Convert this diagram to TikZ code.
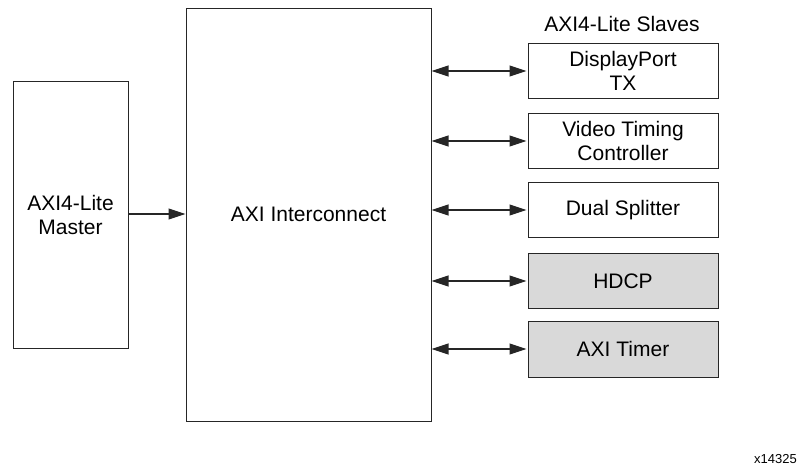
\documentclass[tikz,border=0pt]{standalone}
\usepackage{fontspec}
\setmainfont{Liberation Sans}
\usetikzlibrary{arrows.meta}
\begin{document}
\begin{tikzpicture}[x=1pt,y=-1pt,
  blk/.style={draw=black!85,line width=1pt,fill=white},
  slv/.style={blk,minimum width=190pt,minimum height=55pt,inner sep=0pt,align=center},
  grey/.style={fill=black!15},
  lbl/.style={font=\fontsize{21}{24}\selectfont,align=center},
  conn/.style={line width=1.1pt,draw=black!85,-{Triangle[length=17pt,width=11pt]}},
  bconn/.style={line width=1.1pt,draw=black!85,{Triangle[length=17pt,width=11pt]}-{Triangle[length=17pt,width=11pt]}}]
\useasboundingbox (0,0) rectangle (798,467);
\node[blk,minimum width=115pt,minimum height=267pt,inner sep=0pt] (master) at (70.5,214.5) {};
\node[lbl] at (master.center) {AXI4-Lite\\Master};
\node[blk,minimum width=245pt,minimum height=413pt,inner sep=0pt] (ic) at (308.5,214.5) {};
\node[lbl] at (ic.center) {AXI Interconnect};
\node[slv,font=\fontsize{21}{24}\selectfont] (dp) at (623,71) {DisplayPort\\TX};
\node[slv,font=\fontsize{21}{24}\selectfont] (vtc) at (623,141) {Video Timing\\Controller};
\node[slv,font=\fontsize{21}{24}\selectfont] (ds) at (623,210) {Dual Splitter};
\node[slv,grey,font=\fontsize{21}{24}\selectfont] (hdcp) at (623,281) {HDCP};
\node[slv,grey,font=\fontsize{21}{24}\selectfont,minimum height=56pt] (tmr) at (623,349) {AXI Timer};
\node[lbl] (title) at (622,24) {AXI4-Lite Slaves};
\node[font=\fontsize{13}{15}\selectfont,anchor=east,inner sep=0pt] (fig) at (797,459) {x14325};
\draw[conn] (master.east |- 0,214) -- (ic.west |- 0,214);
\foreach \n in {dp,vtc,ds,hdcp,tmr}
  \draw[bconn] (ic.east |- \n.west) -- ([xshift=-1pt]\n.west);
\end{tikzpicture}
\end{document}
